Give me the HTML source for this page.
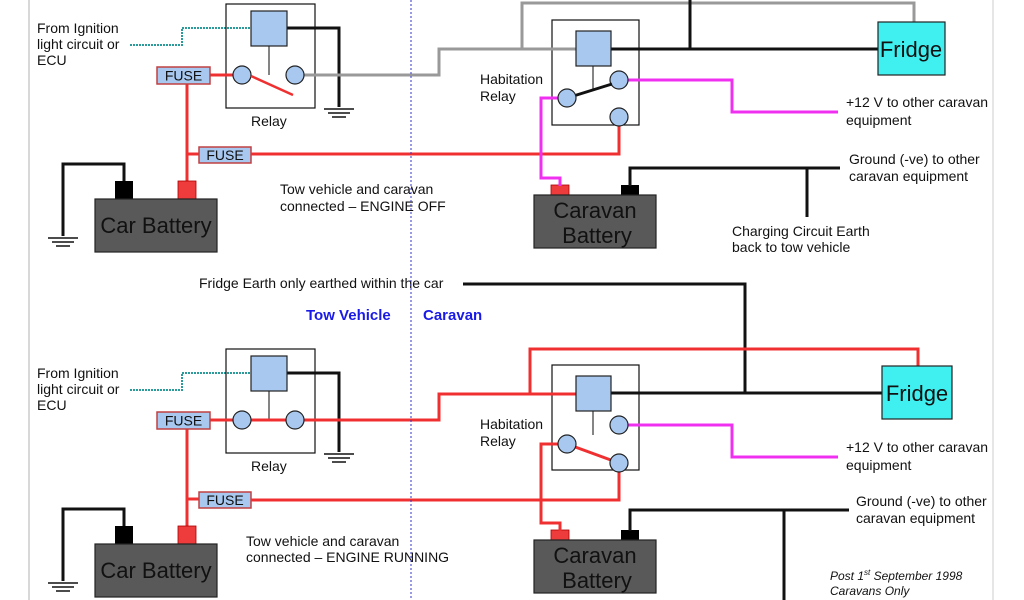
<!DOCTYPE html>
<html><head><meta charset="utf-8"><style>
html,body{margin:0;padding:0;background:#fff;width:1024px;height:600px;overflow:hidden}
svg{display:block}
text{font-family:"Liberation Sans",sans-serif;fill:#111}
</style></head><body>
<svg width="1024" height="600" viewBox="0 0 1024 600" xmlns="http://www.w3.org/2000/svg">
<defs>
<g id="common">
  <!-- ignition label -->
  <text x="37" y="33" font-size="14">From Ignition</text>
  <text x="37" y="49" font-size="14">light circuit or</text>
  <text x="37" y="65" font-size="14">ECU</text>
  <polyline points="130,45 182,45 182,28 251,28" fill="none" stroke="#2a9a9a" stroke-width="2" stroke-dasharray="2,1"/>
  <!-- relay box -->
  <rect x="226" y="4" width="89" height="104" fill="none" stroke="#111" stroke-width="1.2"/>
  <line x1="269" y1="46" x2="269" y2="75" stroke="#333" stroke-width="1.2"/>
  <polyline points="287,28 339,28 339,107" fill="none" stroke="#111" stroke-width="3"/>
  <rect x="251" y="11" width="36" height="35" fill="#a8c8f0" stroke="#222" stroke-width="1.2"/>
  <g stroke="#111" stroke-width="1.5"><line x1="324" y1="109" x2="354" y2="109"/><line x1="328" y1="113" x2="350" y2="113"/><line x1="332" y1="117" x2="346" y2="117"/></g>
  <text x="251" y="126" font-size="14">Relay</text>
  <!-- fuse 1 & wiring -->
  <line x1="187" y1="84" x2="187" y2="182" stroke="#f03030" stroke-width="3"/>
  <line x1="187" y1="154" x2="200" y2="154" stroke="#f03030" stroke-width="3"/>
  <line x1="210" y1="75" x2="234" y2="75" stroke="#f03030" stroke-width="3"/>
  <rect x="157" y="67" width="53" height="17" fill="#a8c8f0" stroke="#c04040" stroke-width="1.5"/>
  <text x="183.5" y="80.5" font-size="14" text-anchor="middle">FUSE</text>
  <rect x="199" y="147" width="52" height="16" fill="#a8c8f0" stroke="#c04040" stroke-width="1.5"/>
  <text x="225" y="160" font-size="14" text-anchor="middle">FUSE</text>
  <!-- car battery -->
  <polyline points="124,182 124,164 63,164 63,236" fill="none" stroke="#111" stroke-width="3"/>
  <g stroke="#111" stroke-width="1.5"><line x1="48" y1="238" x2="78" y2="238"/><line x1="52" y1="242" x2="74" y2="242"/><line x1="56" y1="246" x2="70" y2="246"/></g>
  <rect x="115" y="181" width="18" height="18" fill="#000"/>
  <rect x="178" y="181" width="18" height="18" fill="#ee3b3b" stroke="#a00" stroke-width="0.8"/>
  <rect x="95" y="199" width="122" height="53" fill="#595959" stroke="#222" stroke-width="1.2"/>
  <text x="156" y="233" font-size="22" text-anchor="middle">Car Battery</text>
  <!-- habitation relay -->
  <text x="480" y="84" font-size="14">Habitation</text>
  <text x="480" y="101" font-size="14">Relay</text>
  <rect x="552" y="20" width="87" height="105" fill="none" stroke="#111" stroke-width="1.2"/>
  <line x1="593" y1="66" x2="593" y2="90" stroke="#333" stroke-width="1.2"/>
  <!-- caravan battery -->
  <rect x="621" y="185" width="18" height="10" fill="#000"/>
  <rect x="551" y="185" width="18" height="10" fill="#ee3b3b" stroke="#a00" stroke-width="0.8"/>
  <rect x="534" y="195" width="122" height="53" fill="#595959" stroke="#222" stroke-width="1.2"/>
  <text x="595" y="218" font-size="22" text-anchor="middle">Caravan</text>
  <text x="597" y="243" font-size="22" text-anchor="middle">Battery</text>
  <!-- magenta +12 -->
  <polyline points="628,80 732,80 732,112 838,112" fill="none" stroke="#f030f0" stroke-width="3"/>
  <text x="846" y="107" font-size="14">+12 V to other caravan</text>
  <text x="846" y="125" font-size="14">equipment</text>
  <circle cx="619" cy="80" r="9" fill="#a8c8f0" stroke="#222" stroke-width="1.2"/>
</g>
</defs>

<line x1="29" y1="0" x2="29" y2="600" stroke="#ccc" stroke-width="1.5"/>
<line x1="993" y1="0" x2="993" y2="600" stroke="#ddd" stroke-width="1.5"/>

<!-- ===== TOP ===== -->
<use href="#common"/>
<polyline points="304,75 439,75 439,49 576,49" fill="none" stroke="#999" stroke-width="3"/>
<polyline points="522,49 522,3 914,3 914,22" fill="none" stroke="#999" stroke-width="3"/>
<line x1="611" y1="49" x2="878" y2="49" stroke="#111" stroke-width="3"/>
<line x1="690" y1="0" x2="690" y2="49" stroke="#111" stroke-width="3"/>
<rect x="576" y="31" width="35" height="35" fill="#a8c8f0" stroke="#222" stroke-width="1.2"/>
<rect x="878" y="22" width="67" height="53" fill="#40f0f0" stroke="#222" stroke-width="1.2"/>
<text x="911" y="57" font-size="22" text-anchor="middle">Fridge</text>
<circle cx="242" cy="75" r="9" fill="#a8c8f0" stroke="#222" stroke-width="1.2"/>
<circle cx="295" cy="75" r="9" fill="#a8c8f0" stroke="#222" stroke-width="1.2"/>
<line x1="251" y1="76" x2="293" y2="95" stroke="#f03030" stroke-width="2.5"/>
<polyline points="251,154 619,154 619,126" fill="none" stroke="#f03030" stroke-width="3"/>
<polyline points="558,98 541,98 541,178 560,178 560,186" fill="none" stroke="#f030f0" stroke-width="3"/>
<line x1="567" y1="98" x2="612" y2="84" stroke="#111" stroke-width="3"/>
<circle cx="567" cy="98" r="9" fill="#a8c8f0" stroke="#222" stroke-width="1.2"/>
<circle cx="619" cy="117" r="9" fill="#a8c8f0" stroke="#222" stroke-width="1.2"/>
<polyline points="630,186 630,168 840,168" fill="none" stroke="#111" stroke-width="3"/>
<line x1="807" y1="168" x2="807" y2="217" stroke="#111" stroke-width="3"/>
<text x="849" y="164" font-size="14">Ground (-ve) to other</text>
<text x="849" y="181" font-size="14">caravan equipment</text>
<text x="732" y="236" font-size="14">Charging Circuit Earth</text>
<text x="732" y="252" font-size="14">back to tow vehicle</text>
<text x="280" y="194" font-size="14">Tow vehicle and caravan</text>
<text x="280" y="211" font-size="14">connected – ENGINE OFF</text>

<!-- middle -->
<text x="199" y="288" font-size="14">Fridge Earth only earthed within the car</text>
<polyline points="463,284 745,284 745,393" fill="none" stroke="#111" stroke-width="3"/>
<text x="306" y="320" font-size="15" font-weight="bold" style="fill:#1a1ae8">Tow Vehicle</text>
<text x="423" y="320" font-size="15" font-weight="bold" style="fill:#1a1ae8">Caravan</text>

<!-- ===== BOTTOM ===== -->
<g transform="translate(0,345)"><use href="#common"/></g>
<polyline points="304,420 439,420 439,394 576,394" fill="none" stroke="#f03030" stroke-width="3"/>
<polyline points="530,394 530,349 918,349 918,366" fill="none" stroke="#f03030" stroke-width="3"/>
<line x1="233" y1="420" x2="304" y2="420" stroke="#f03030" stroke-width="3"/>
<line x1="611" y1="393" x2="882" y2="393" stroke="#111" stroke-width="3"/>
<rect x="576" y="376" width="35" height="35" fill="#a8c8f0" stroke="#222" stroke-width="1.2"/>
<rect x="882" y="366" width="70" height="53" fill="#40f0f0" stroke="#222" stroke-width="1.2"/>
<text x="917" y="401" font-size="22" text-anchor="middle">Fridge</text>
<circle cx="242" cy="420" r="9" fill="#a8c8f0" stroke="#222" stroke-width="1.2"/>
<circle cx="295" cy="420" r="9" fill="#a8c8f0" stroke="#222" stroke-width="1.2"/>
<polyline points="251,500 619,500 619,472" fill="none" stroke="#f03030" stroke-width="3"/>
<polyline points="558,444 541,444 541,523 560,523 560,531" fill="none" stroke="#f03030" stroke-width="3"/>
<line x1="567" y1="444" x2="619" y2="463" stroke="#f03030" stroke-width="3"/>
<circle cx="567" cy="444" r="9" fill="#a8c8f0" stroke="#222" stroke-width="1.2"/>
<circle cx="619" cy="463" r="9" fill="#a8c8f0" stroke="#222" stroke-width="1.2"/>
<polyline points="630,531 630,510 849,510" fill="none" stroke="#111" stroke-width="3"/>
<line x1="784" y1="510" x2="784" y2="600" stroke="#111" stroke-width="3"/>
<text x="856" y="506" font-size="14">Ground (-ve) to other</text>
<text x="856" y="523" font-size="14">caravan equipment</text>
<text x="246" y="546" font-size="14">Tow vehicle and caravan</text>
<text x="246" y="562" font-size="14">connected – ENGINE RUNNING</text>
<text x="830" y="580" font-size="12" font-style="italic">Post 1<tspan font-size="8" dy="-5">st</tspan><tspan dy="5"> September 1998</tspan></text>
<text x="830" y="595" font-size="12" font-style="italic">Caravans  Only</text>

<line x1="411" y1="0" x2="411" y2="600" stroke="#3333cc" stroke-width="1" stroke-dasharray="2,2"/>
</svg>
</body></html>
